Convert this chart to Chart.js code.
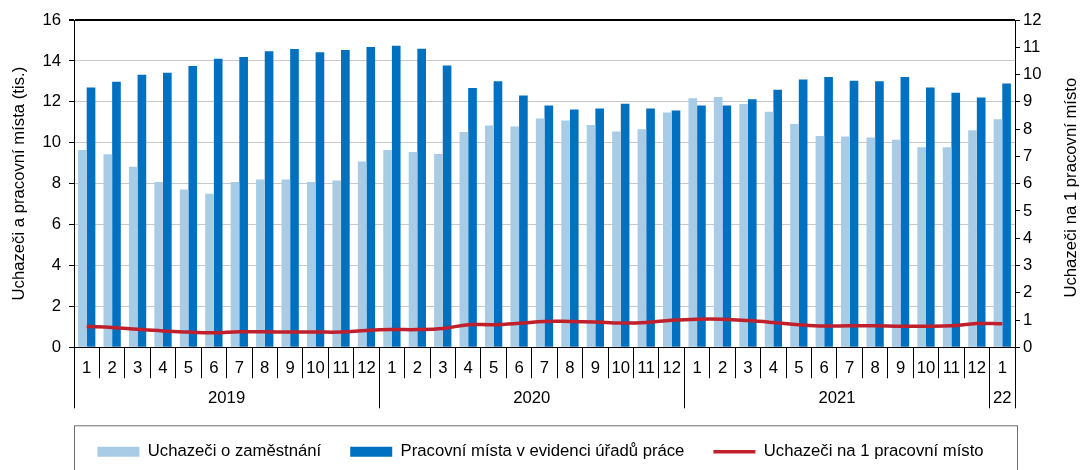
<!DOCTYPE html>
<html lang="cs">
<head>
<meta charset="utf-8">
<script src="https://cdn.jsdelivr.net/npm/chart.js@4/dist/chart.umd.min.js"></script>
<style>
  html, body { margin: 0; padding: 0; background: #fff; }
  #wrap { width: 1081px; height: 470px; }
</style>
</head>
<body>
<div id="wrap"><canvas id="chart"></canvas></div>
<script>
// months 1/2019 .. 1/2022
const months = [
  '1', '2', '3', '4', '5', '6', '7', '8', '9', '10', '11', '12',
  '1', '2', '3', '4', '5', '6', '7', '8', '9', '10', '11', '12',
  '1', '2', '3', '4', '5', '6', '7', '8', '9', '10', '11', '12',
  '1'
];
const yearLabels = ['2019', '2020', '2021', '22'];
const monthsPerYear = [12, 12, 12, 1];

// thousands
const applicants = [
  9.65, 9.44, 8.83, 8.08, 7.71, 7.51, 8.08, 8.20, 8.20, 8.08, 8.15, 9.08,
  9.65, 9.55, 9.45, 10.53, 10.84, 10.79, 11.18, 11.09, 10.87, 10.55, 10.66, 11.48,
  12.18, 12.23, 11.89, 11.51, 10.91, 10.33, 10.30, 10.25, 10.14, 9.78, 9.78, 10.61,
  11.15
];
const vacancies = [
  12.70, 12.98, 13.32, 13.42, 13.75, 14.11, 14.19, 14.47, 14.58, 14.42, 14.53, 14.68,
  14.74, 14.60, 13.78, 12.67, 13.00, 12.31, 11.82, 11.62, 11.67, 11.90, 11.67, 11.58,
  11.82, 11.82, 12.13, 12.59, 13.09, 13.21, 13.03, 13.00, 13.21, 12.70, 12.44, 12.21,
  12.90
];
const perVacancy = [
  0.76, 0.73, 0.66, 0.60, 0.56, 0.53, 0.57, 0.57, 0.56, 0.56, 0.56, 0.62,
  0.65, 0.65, 0.69, 0.83, 0.83, 0.88, 0.95, 0.95, 0.93, 0.89, 0.91, 0.99,
  1.03, 1.03, 0.98, 0.91, 0.83, 0.78, 0.79, 0.79, 0.77, 0.77, 0.79, 0.87,
  0.86
];

const leftTitle = 'Uchazeči a pracovní místa (tis.)';
const rightTitle = 'Uchazeči na 1 pracovní místo';

// year row: separators at year boundaries, label in the middle of each year
const yearTicks = [{ value: -0.5, label: '' }];
let start = 0;
monthsPerYear.forEach((n, i) => {
  yearTicks.push({ value: start + (n - 1) / 2, label: yearLabels[i] });
  start += n;
  yearTicks.push({ value: start - 0.5, label: '' });
});

const FONT = '"Liberation Sans", Arial, sans-serif';
const FS = 16.7;
Chart.defaults.font.family = FONT;
Chart.defaults.font.size = FS;
Chart.defaults.color = '#000';

// right axis title reads bottom-to-top, like the left one
const rightTitlePlugin = {
  id: 'rightTitle',
  afterDraw(chart) {
    const s = chart.scales.y2;
    const area = chart.chartArea;
    const ctx = chart.ctx;
    ctx.save();
    ctx.translate(s.right - 10, (area.top + area.bottom) / 2 + 4);
    ctx.rotate(-Math.PI / 2);
    ctx.font = FS + 'px ' + FONT;
    ctx.fillStyle = '#000';
    ctx.textAlign = 'center';
    ctx.textBaseline = 'middle';
    ctx.fillText(rightTitle, 0, 0);
    ctx.restore();
  }
};

// frame around the legend
const legendBox = {
  id: 'legendBox',
  afterDraw(chart) {
    const lg = chart.legend;
    const area = chart.chartArea;
    const ctx = chart.ctx;
    ctx.save();
    ctx.strokeStyle = '#6e6e6e';
    ctx.lineWidth = 1;
    ctx.strokeRect(area.left + 0.5, lg.top + 17.5, area.right - area.left + 2, 80);
    ctx.restore();
  }
};

new Chart(document.getElementById('chart'), {
  data: {
    labels: months,
    datasets: [
      {
        type: 'bar',
        label: 'Uchazeči o zaměstnání',
        data: applicants,
        backgroundColor: '#a8cce6',
        yAxisID: 'y',
        xAxisID: 'x',
        order: 1,
        barPercentage: 1,
        categoryPercentage: 0.68
      },
      {
        type: 'bar',
        label: 'Pracovní místa v evidenci úřadů práce',
        data: vacancies,
        backgroundColor: '#0070c0',
        yAxisID: 'y',
        xAxisID: 'x',
        order: 1,
        barPercentage: 1,
        categoryPercentage: 0.68
      },
      {
        type: 'line',
        label: 'Uchazeči na 1 pracovní místo',
        data: perVacancy,
        borderColor: '#c0202c',
        backgroundColor: '#c0202c',
        borderWidth: 3.5,
        tension: 0.4,
        pointRadius: 0,
        yAxisID: 'y2',
        xAxisID: 'x',
        order: 0
      }
    ]
  },
  options: {
    responsive: true,
    maintainAspectRatio: false,
    animation: false,
    layout: { padding: { top: 20, bottom: 0, left: 0, right: 0 } },
    plugins: {
      tooltip: { enabled: false },
      legend: {
        position: 'bottom',
        title: { display: true, text: '', font: { size: 6, lineHeight: 1 }, padding: 0 },
        labels: {
          usePointStyle: true,
          pointStyleWidth: 42,
          boxHeight: 10,
          padding: 29,
          color: '#000',
          generateLabels(chart) {
            const items = Chart.defaults.plugins.legend.labels.generateLabels(chart);
            items.sort((a, b) => a.datasetIndex - b.datasetIndex);
            items.forEach(it => {
              const isLine = it.datasetIndex === 2;
              it.pointStyle = isLine ? 'line' : 'rect';
              it.lineWidth = isLine ? 3.5 : 0;
            });
            return items;
          }
        }
      }
    },
    scales: {
      x: {
        type: 'category',
        position: 'bottom',
        weight: 0,
        offset: true,
        afterFit: s => { s.height = 31; },
        grid: { offset: true, drawOnChartArea: false, tickLength: 31, tickColor: '#000', color: '#000' },
        border: { color: '#000' },
        ticks: { autoSkip: false, maxRotation: 0, padding: -20, color: '#000' }
      },
      yr: {
        type: 'linear',
        position: 'bottom',
        weight: 1,
        bounds: 'data',
        min: -0.5,
        max: 36.5,
        afterBuildTicks: s => { s.ticks = yearTicks.map(t => ({ value: t.value })); },
        afterFit: s => { s.height = 30; },
        grid: {
          drawOnChartArea: false,
          tickLength: 30,
          tickColor: ctx => (yearTicks[ctx.index] && yearTicks[ctx.index].label) ? 'rgba(0,0,0,0)' : '#000',
          color: '#000'
        },
        border: { display: false },
        ticks: {
          autoSkip: false,
          maxRotation: 0,
          padding: -20,
          color: '#000',
          callback: (v, i) => yearTicks[i].label
        }
      },
      y: {
        position: 'left',
        min: 0,
        max: 16,
        afterFit: s => { s.width = 74; },
        ticks: { stepSize: 2, padding: 8, color: '#000' },
        grid: {
          color: ctx => (ctx.tick && ctx.tick.value === 16) ? '#000' : '#c8c8c8',
          lineWidth: ctx => (ctx.tick && ctx.tick.value === 16) ? 2 : 1,
          tickColor: '#000',
          tickLength: 5
        },
        border: { color: '#000' },
        title: { display: true, text: leftTitle, color: '#000', padding: { top: 9, bottom: 0 } }
      },
      y2: {
        position: 'right',
        min: 0,
        max: 12,
        afterFit: s => { s.width = 66; },
        ticks: { stepSize: 1, padding: 3, color: '#000' },
        grid: { drawOnChartArea: false, tickColor: '#000', tickLength: 5 },
        border: { color: '#000' }
      }
    }
  },
  plugins: [rightTitlePlugin, legendBox]
});
</script>
</body>
</html>
